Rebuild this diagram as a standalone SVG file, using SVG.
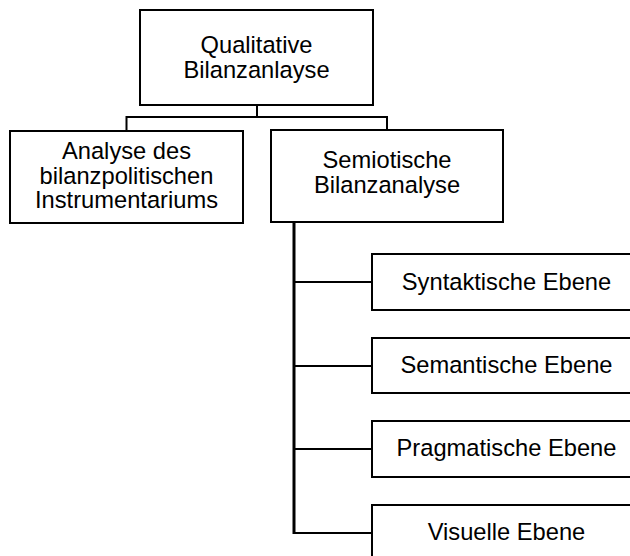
<svg xmlns="http://www.w3.org/2000/svg" width="630" height="556" viewBox="0 0 630 556">
<style>
.box{fill:#fff;stroke:#000;stroke-width:2}
.t{font-family:"Liberation Sans",Arial,sans-serif;font-size:23.7px;fill:#000;text-anchor:middle}
.c{fill:none;stroke:#000;stroke-width:2}
.v{fill:none;stroke:#000;stroke-width:3}
</style>
<rect width="630" height="556" fill="#fff"/>
<g id="connectors">
<path class="c" d="M257 105V117M126.5 130V117H387V130"/>
<path class="v" d="M294 223V534"/>
<path class="c" d="M294 282H372M294 366H372M294 449H372M294 533H372"/>
</g>
<g id="node-qualitative">
<rect class="box" x="140" y="10" width="233" height="95"/>
<text class="t" x="256.5" y="53">Qualitative</text>
<text class="t" x="256.5" y="77.5">Bilanzanlayse</text>
</g>
<g id="node-instrumentarium">
<rect class="box" x="10" y="131" width="233" height="92"/>
<text class="t" x="126.5" y="159">Analyse des</text>
<text class="t" x="126.5" y="183.5">bilanzpolitischen</text>
<text class="t" x="126.5" y="208">Instrumentariums</text>
</g>
<g id="node-semiotische">
<rect class="box" x="271" y="130" width="232" height="92"/>
<text class="t" x="387" y="168">Semiotische</text>
<text class="t" x="387" y="193">Bilanzanalyse</text>
</g>
<g id="node-syntaktisch">
<rect class="box" x="372" y="254" width="270" height="56"/>
<text class="t" x="506.5" y="289.5">Syntaktische Ebene</text>
</g>
<g id="node-semantisch">
<rect class="box" x="372" y="338" width="270" height="55"/>
<text class="t" x="506.5" y="373">Semantische Ebene</text>
</g>
<g id="node-pragmatisch">
<rect class="box" x="372" y="421" width="270" height="56"/>
<text class="t" x="506.5" y="456">Pragmatische Ebene</text>
</g>
<g id="node-visuell">
<rect class="box" x="372" y="505" width="270" height="56"/>
<text class="t" x="506.5" y="539.5">Visuelle Ebene</text>
</g>
</svg>
